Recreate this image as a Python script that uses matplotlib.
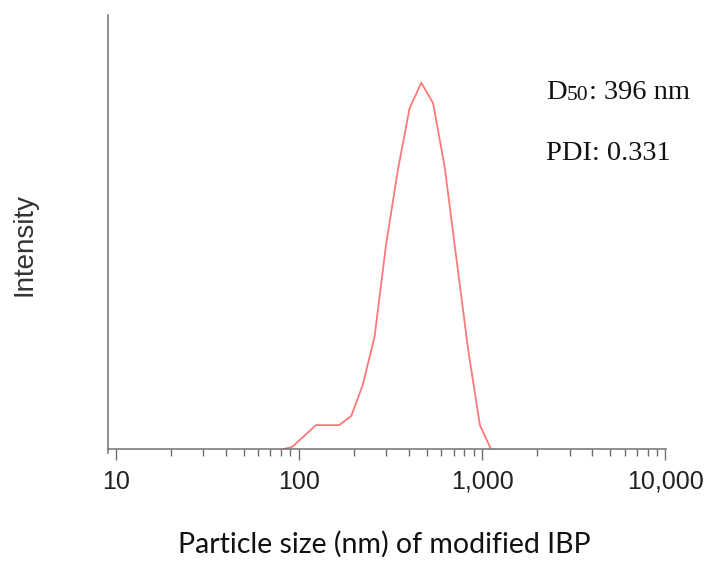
import numpy as np
import matplotlib
matplotlib.use('Agg')
import matplotlib.pyplot as plt
from matplotlib.ticker import FuncFormatter, FixedLocator

plt.rcParams['font.family'] = ['Liberation Sans', 'DejaVu Sans']

# Tamanho de partícula (nm) e intensidade (unidades arbitrárias)
tamanho_nm = [83, 92, 124, 166, 193, 223, 259, 299, 347, 402, 466, 540,
              625, 724, 840, 973, 1117]
intensidade = [0.0, 0.5, 5.5, 5.5, 7.6, 14.7, 25.9, 47.0, 64.3, 78.5, 84.4,
               79.7, 65.0, 43.9, 22.8, 5.5, 0.0]

ticks_x = [10, 100, 1000, 10000]
texto_d50 = ('D', '50', ': 396 nm')
texto_pdi = 'PDI: 0.331'

W, H = 707, 561
fig = plt.figure(figsize=(W / 100, H / 100), dpi=100)
ax = fig.add_axes([107.7 / W, 1 - 449 / H, (665.7 - 107.7) / W, (449 - 15) / H])

ax.plot(tamanho_nm, intensidade, color='#ff7878', linewidth=1.3)

ax.set_xscale('log')
ax.set_xlim(9.05, 10050)
ax.set_ylim(0, 100)

cor_eixo = '#707070'
for lado in ['top', 'right']:
    ax.spines[lado].set_visible(False)
for lado in ['left', 'bottom']:
    ax.spines[lado].set_color(cor_eixo)
    ax.spines[lado].set_linewidth(1.1)
ax.spines['left'].set_bounds(-1.0, 100)

ax.set_yticks([])
ax.xaxis.set_major_locator(FixedLocator(ticks_x))
ax.xaxis.set_major_formatter(FuncFormatter(lambda v, p: '{:,.0f}'.format(v)))
ax.tick_params(axis='x', which='major', length=8, width=1.0, color=cor_eixo,
               pad=7, labelsize=18, labelcolor='#222222')
ax.tick_params(axis='x', which='minor', length=5, width=1.0, color=cor_eixo)

fig.text(384 / W, 1 - 553 / H, 'Particle size (nm) of modified IBP',
         fontsize=20.5, family='Lato', color='#111111', ha='center',
         va='baseline')
fig.text(25 / W, 1 - 245 / H, 'Intensity', rotation=90, ha='center',
         va='center', fontsize=20, color='#333333')

# Anotações D50 e PDI
serif = 'Liberation Serif'
fig.text(546 / W, 1 - 99 / H, texto_d50[0], fontsize=20.5, family=serif,
         va='baseline', color='#111111')
fig.text(567 / W, 1 - 100 / H, texto_d50[1], fontsize=15.5, family=serif,
         va='baseline', color='#111111')
fig.text(589 / W, 1 - 99 / H, texto_d50[2], fontsize=20.5, family=serif,
         va='baseline', color='#111111')
fig.text(546 / W, 1 - 160 / H, texto_pdi, fontsize=20.5, family=serif,
         va='baseline', color='#111111')

fig.savefig('out.png', dpi=100)
